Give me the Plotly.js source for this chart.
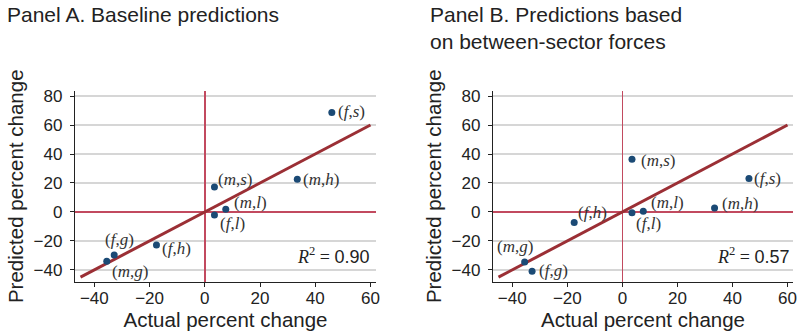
<!DOCTYPE html>
<html>
<head>
<meta charset="utf-8">
<script src="https://cdn.plot.ly/plotly-3.0.1.min.js"></script>
<style>html,body{margin:0;padding:0;background:#fff;}#chart{width:799px;height:336px;}</style>
</head>
<body>
<div id="chart"></div>
<script>
// Data
const groups = ["f,s", "m,s", "m,h", "m,l", "f,l", "f,h", "f,g", "m,g"];
const actualChange = [46, 3.5, 33.5, 7.6, 3.5, -17.5, -32.8, -35.5];
const predictedA = [68.7, 17.3, 22.6, 1.9, -2.1, -22.8, -29.7, -34.1];
const predictedB = [23.1, 36.4, 2.8, 0.5, -0.5, -7.3, -41, -34.6];
const lineX = [-45, 60];
const lineY = [-45, 60];
const r2A = "0.90";
const r2B = "0.57";
const xTicks = [-40, -20, 0, 20, 40, 60];
const yTicks = [-40, -20, 0, 20, 40, 60, 80];

// label placement styles (offsets in px)
const labelPosA = [
  {ax: "left", ay: "middle", dx: 4, dy: 1},
  {ax: "left", ay: "middle", dx: 2, dy: 7},
  {ax: "left", ay: "middle", dx: 4, dy: 0},
  {ax: "left", ay: "middle", dx: 6, dy: 7},
  {ax: "left", ay: "middle", dx: 4, dy: -8},
  {ax: "left", ay: "middle", dx: 4, dy: -4},
  {ax: "center", ay: "middle", dx: 5, dy: 15},
  {ax: "left", ay: "middle", dx: 3, dy: -10}
];
const labelPosB = [
  {ax: "left", ay: "middle", dx: 3, dy: 0},
  {ax: "left", ay: "middle", dx: 7, dy: -1},
  {ax: "left", ay: "middle", dx: 5, dy: 4},
  {ax: "left", ay: "middle", dx: 6, dy: 9},
  {ax: "left", ay: "middle", dx: 2, dy: -11},
  {ax: "left", ay: "middle", dx: 2, dy: 10},
  {ax: "left", ay: "middle", dx: 5, dy: 1},
  {ax: "center", ay: "middle", dx: -10, dy: 16}
];

const markerColor = "#1b4a75";
const lineColor = "#9b2f35";
const zeroColor = "#c24a5f";
const serif = "Liberation Serif, DejaVu Serif, serif";
const sans = "Liberation Sans, Arial, sans-serif";

function fmt(g) {
  const p = g.split(",");
  return "(<i>" + p[0] + "</i>,<i>" + p[1] + "</i>)";
}

const traces = [
  {x: lineX, y: lineY, mode: "lines", line: {color: lineColor, width: 3}, xaxis: "x", yaxis: "y", hoverinfo: "skip"},
  {x: actualChange, y: predictedA, mode: "markers", marker: {color: markerColor, size: 7}, xaxis: "x", yaxis: "y"},
  {x: lineX, y: lineY, mode: "lines", line: {color: lineColor, width: 3}, xaxis: "x2", yaxis: "y2", hoverinfo: "skip"},
  {x: actualChange, y: predictedB, mode: "markers", marker: {color: markerColor, size: 7}, xaxis: "x2", yaxis: "y2"}
];

const annotations = [];
function addLabels(yvals, pos, xr, yr) {
  groups.forEach((g, i) => {
    annotations.push({
      x: actualChange[i], y: yvals[i], xref: xr, yref: yr,
      text: fmt(g), showarrow: false,
      xanchor: pos[i].ax, yanchor: pos[i].ay,
      xshift: pos[i].dx, yshift: pos[i].dy,
      font: {family: serif, size: 17, color: "#333"}
    });
  });
}
addLabels(predictedA, labelPosA, "x", "y");
addLabels(predictedB, labelPosB, "x2", "y2");

function r2Text(v) {
  return '<span style="font-family:' + serif + '"><i>R</i><sup>2</sup> = </span>' + v;
}
annotations.push({x: 1, y: -30, xref: "x domain", yref: "y", text: r2Text(r2A), showarrow: false,
  xanchor: "right", yanchor: "middle", xshift: -4, font: {family: sans, size: 18, color: "#222"}});
annotations.push({x: 1, y: -30, xref: "x2 domain", yref: "y2", text: r2Text(r2B), showarrow: false,
  xanchor: "right", yanchor: "middle", xshift: -1, font: {family: sans, size: 18, color: "#222"}});

annotations.push({x: 5/799, y: 1 - 1/336, xref: "paper", yref: "paper", xanchor: "left", yanchor: "top",
  text: "Panel A. Baseline predictions", showarrow: false, font: {family: sans, size: 21, color: "#222"}});
annotations.push({x: 428/799, y: 1 - 1/336, xref: "paper", yref: "paper", xanchor: "left", yanchor: "top", align: "left",
  text: "Panel B. Predictions based<br>on between-sector forces", showarrow: false, font: {family: sans, size: 21, color: "#222"}});

function xax(domain) {
  return {
    domain: domain, range: [-47, 62], tickvals: xTicks, ticks: "outside", ticklen: 4, tickcolor: "#222",
    showline: true, linecolor: "#222", linewidth: 1.2, showgrid: false,
    zeroline: true, zerolinecolor: zeroColor, zerolinewidth: 1.5,
    tickfont: {family: sans, size: 17, color: "#222"}, ticklabelstandoff: -3,
    title: {text: "Actual percent change", font: {family: sans, size: 20.5, color: "#222"}, standoff: 2},
    fixedrange: true
  };
}
function yax(anchor) {
  return {
    domain: [1 - 281.5/336, 1 - 91/336], range: [-48, 83.5], tickvals: yTicks, ticks: "outside", ticklen: 4, tickcolor: "#222",
    showline: true, linecolor: "#222", linewidth: 1.2, showgrid: true, gridcolor: "#d6d6d6", gridwidth: 1.5,
    zeroline: true, zerolinecolor: zeroColor, zerolinewidth: 1.5,
    tickfont: {family: sans, size: 17, color: "#222"}, ticklabelstandoff: 4,
    title: {text: "Predicted percent change", font: {family: sans, size: 20.5, color: "#222"}, standoff: 4},
    anchor: anchor, fixedrange: true
  };
}

const layout = {
  width: 799, height: 336,
  margin: {l: 0, r: 0, t: 0, b: 0},
  paper_bgcolor: "#fff", plot_bgcolor: "#fff",
  showlegend: false,
  xaxis: Object.assign(xax([75/799, 376/799]), {anchor: "y"}),
  yaxis: yax("x"),
  xaxis2: Object.assign(xax([493/799, 793/799]), {anchor: "y2"}),
  yaxis2: yax("x2"),
  annotations: annotations
};

Plotly.newPlot("chart", traces, layout, {displayModeBar: false, staticPlot: true});
</script>
</body>
</html>
